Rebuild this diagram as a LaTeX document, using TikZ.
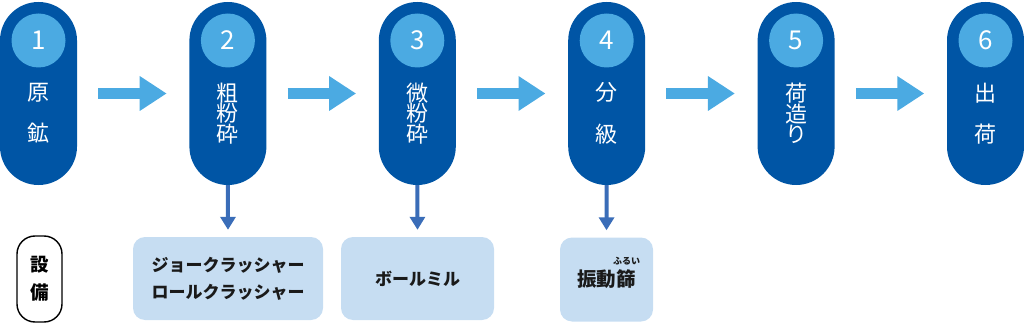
\documentclass[tikz,border=0pt]{standalone}
\usepackage{fontspec}
\setmainfont{Noto Sans CJK JP}
\usetikzlibrary{arrows.meta,positioning,calc}
\definecolor{deepblue}{HTML}{0055A5}
\definecolor{skyblue}{HTML}{4BAAE2}
\definecolor{dropblue}{HTML}{3A6DB8}
\definecolor{paleblue}{HTML}{C6DDF2}
\definecolor{inkgray}{HTML}{1A1A1A}

\tikzset{
  pill/.style={fill=deepblue,minimum width=77pt,minimum height=183pt,
    rounded corners=38.5pt,inner sep=0pt},
  numdot/.style={circle,fill=skyblue,minimum size=54pt,inner sep=0pt,
    text=white,font=\fontsize{26pt}{26pt}\selectfont},
  stagetext/.style={text=white,align=center,inner sep=0pt,
    font=\fontsize{22pt}{20.5pt}\selectfont},
  flow/.style={draw=skyblue,line width=11.5pt,
    -{Triangle[length=27pt,width=33pt]}},
  drop/.style={draw=dropblue,line width=4pt,
    -{Triangle[length=13pt,width=15pt]}},
  equipbox/.style={fill=paleblue,rounded corners=12pt,minimum height=83pt,
    align=center,text=inkgray,inner sep=0pt,
    font=\bfseries\fontsize{17pt}{27pt}\selectfont},
  keybox/.style={draw=black,line width=1.4pt,fill=white,rounded corners=18pt,
    minimum width=45pt,minimum height=86pt,align=center,inner sep=0pt,
    font=\bfseries\fontsize{18.5pt}{28pt}\selectfont},
  rubytext/.style={text=inkgray,inner sep=0pt,font=\bfseries\fontsize{9pt}{9pt}\selectfont}
}

\begin{document}
\begin{tikzpicture}[x=1pt,y=-1pt]
  \useasboundingbox (0,0) rectangle (1024,323);
  % stages
  \foreach \i/\lbl in {%
    1/{原\\[21pt]鉱},
    2/{粗\\粉\\砕},
    3/{微\\粉\\砕},
    4/{分\\[21pt]級},
    5/{荷\\造\\り},
    6/{出\\[21pt]荷}}
  {
    \node[pill] (p\i) at ({38.5+(\i-1)*189.4},93.5) {};
    \node[numdot] (n\i) at ({38.5+(\i-1)*189.4},40.5) {\i};
    \node[stagetext] (t\i) at ({38.5+(\i-1)*189.4},113.5) {\lbl};
  }
  \foreach \i in {1,...,5}{
    \pgfmathtruncatemacro{\j}{\i+1}
    \draw[flow] ([xshift=21pt]p\i.east) -- ([xshift=-22.5pt]p\j.west);
  }

  % equipment
  \node[keybox] (key) at (39.5,279) {設\\備};
  \node[equipbox,minimum width=190pt] (b2) at (228,278.5)
    {ジョークラッシャー\\ロールクラッシャー};
  \node[equipbox,minimum width=153pt] (b3) at (417.5,278.5) {ボールミル};
  \node[equipbox,minimum width=93pt,minimum height=84pt] (b4) at (606.5,279.5) {};
  \node[text=inkgray,inner sep=0pt,font=\bfseries\fontsize{19.5pt}{19.5pt}\selectfont]
    (s4) at (606.5,279) {振動篩};
  \node[rubytext] (r4) at (626.5,261) {ふるい};
  \foreach \i in {2,3,4}
    \draw[drop] (p\i.south) -- ([yshift=7pt]b\i.north);
\end{tikzpicture}
\end{document}
